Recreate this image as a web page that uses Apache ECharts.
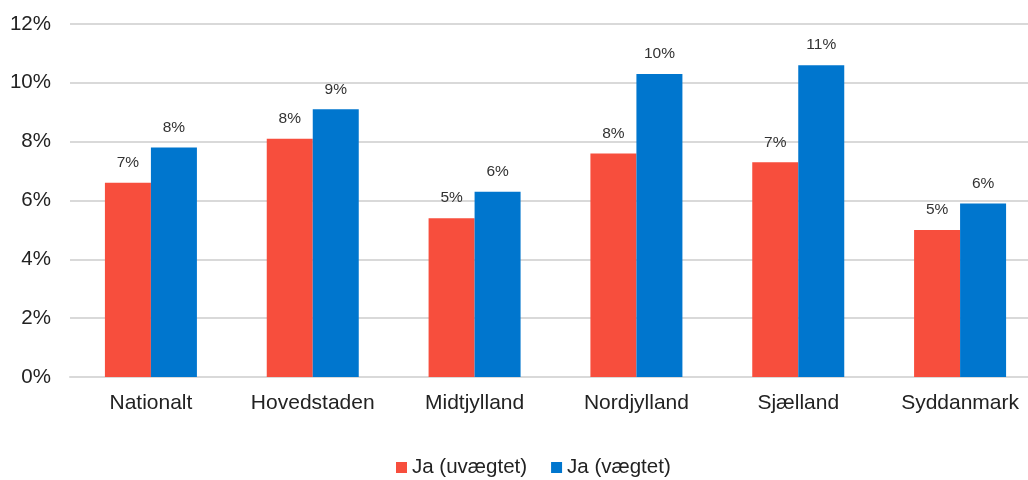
<!DOCTYPE html>
<html><head><meta charset="utf-8">
<script src="https://cdn.jsdelivr.net/npm/echarts@6/dist/echarts.min.js"></script>
<style>html,body{margin:0;padding:0;background:#fff;overflow:hidden;width:1028px;height:480px}#c{width:1041px;height:480px}</style>
</head><body><div id="c"></div>
<script>
const categories = ['Nationalt','Hovedstaden','Midtjylland','Nordjylland','Sjælland','Syddanmark'];
const seriesNames = ['Ja (uvægtet)','Ja (vægtet)'];
const uvaegtet = [6.6, 8.1, 5.4, 7.6, 7.3, 5.0];
const vaegtet = [7.8, 9.1, 6.3, 10.3, 10.6, 5.9];
const yTicks = [0, 2, 4, 6, 8, 10, 12];

const font = '"Liberation Sans", Arial, sans-serif';
const chart = echarts.init(document.getElementById('c'), null, {renderer:'canvas'});
const lbl = {show:true, position:'top', distance:12, fontFamily:font, fontSize:15.5, color:'#333',
  formatter: p => Math.round(p.value) + '%'};
chart.setOption({
  animation:false,
  textStyle:{fontFamily:font},
  grid:{left:70, right:0, top:24, bottom:103, containLabel:false},
  legend:{top:452, left:391, itemWidth:11, itemHeight:11, itemGap:24, icon:'rect',
    textStyle:{fontFamily:font, fontSize:20.5, color:'#222'}, data:seriesNames},
  xAxis:{type:'category', data:categories,
    axisLine:{lineStyle:{color:'#d9d9d9', width:2}}, axisTick:{show:false},
    axisLabel:{fontFamily:font, fontSize:21, color:'#222', margin:16, interval:0}},
  yAxis:{type:'value', min:yTicks[0], max:yTicks[yTicks.length-1], interval:2,
    axisLine:{show:false}, axisTick:{show:false},
    splitLine:{lineStyle:{color:'#d9d9d9', width:2}},
    axisLabel:{fontFamily:font, fontSize:20.5, color:'#222', margin:19, formatter: v => v + '%'}},
  series:[
    {name:seriesNames[0], type:'bar', data:uvaegtet, barWidth:46, barGap:'0%', itemStyle:{color:'#F74E3D'}, label:lbl},
    {name:seriesNames[1], type:'bar', data:vaegtet, barWidth:46, barGap:'0%', itemStyle:{color:'#0076CE'}, label:lbl}
  ]
});
</script></body></html>
